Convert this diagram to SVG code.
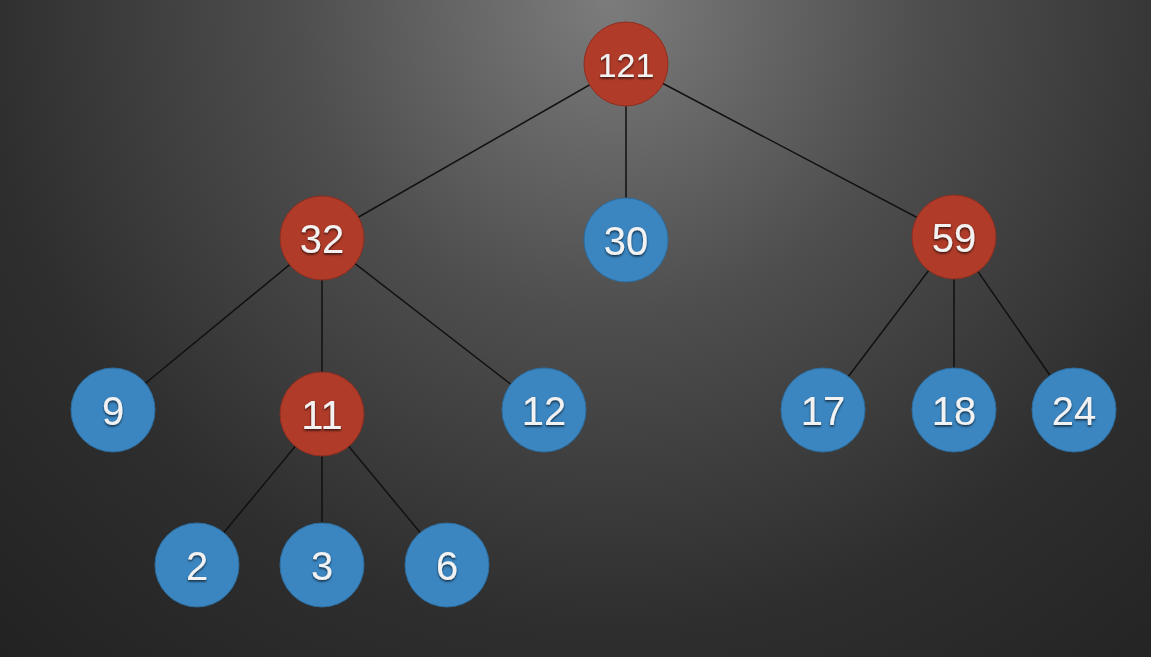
<svg xmlns="http://www.w3.org/2000/svg" width="1151" height="657" viewBox="0 0 1151 657">
<defs>
<radialGradient id="bg" cx="610" cy="0" r="900" gradientUnits="userSpaceOnUse">
<stop offset="0" stop-color="#7c7c7c"/>
<stop offset="0.35" stop-color="#4e4e4e"/>
<stop offset="0.7" stop-color="#2e2e2e"/>
<stop offset="1" stop-color="#222222"/>
</radialGradient>
<filter id="ts" x="-20%" y="-20%" width="140%" height="160%">
<feDropShadow dx="0" dy="1.5" stdDeviation="1" flood-color="#000" flood-opacity="0.7"/>
</filter>
</defs>
<style>
.edge{stroke:#111;stroke-width:1.5;fill:none}
.red{fill:#b03b29;stroke:#8f2e20;stroke-width:1}
.blue{fill:#3b86c1;stroke:#2d6e9f;stroke-width:1}
.lbl{font-family:"Liberation Sans",Arial,sans-serif;font-size:40px;fill:#f2f2f2;text-anchor:middle;dominant-baseline:central;filter:url(#ts)}
.small{font-size:34px}
</style>
<rect width="1151" height="657" fill="url(#bg)"/>
<g id="connectors">
<line class="edge" x1="626" y1="64" x2="322" y2="238"/>
<line class="edge" x1="626" y1="64" x2="626" y2="240"/>
<line class="edge" x1="626" y1="64" x2="954" y2="237"/>
<line class="edge" x1="322" y1="238" x2="113" y2="410"/>
<line class="edge" x1="322" y1="238" x2="322" y2="414"/>
<line class="edge" x1="322" y1="238" x2="544" y2="410"/>
<line class="edge" x1="954" y1="237" x2="823" y2="410"/>
<line class="edge" x1="954" y1="237" x2="954" y2="410"/>
<line class="edge" x1="954" y1="237" x2="1074" y2="410"/>
<line class="edge" x1="322" y1="414" x2="197" y2="565"/>
<line class="edge" x1="322" y1="414" x2="322" y2="565"/>
<line class="edge" x1="322" y1="414" x2="447" y2="565"/>
</g>
<g id="n121"><circle class="red" cx="626" cy="64" r="42"/><text class="lbl small" x="626" y="65">121</text></g>
<g id="n32"><circle class="red" cx="322" cy="238" r="42"/><text class="lbl" x="322" y="239">32</text></g>
<g id="n30"><circle class="blue" cx="626" cy="240" r="42"/><text class="lbl" x="626" y="241">30</text></g>
<g id="n59"><circle class="red" cx="954" cy="237" r="42"/><text class="lbl" x="954" y="238">59</text></g>
<g id="n9"><circle class="blue" cx="113" cy="410" r="42"/><text class="lbl" x="113" y="411">9</text></g>
<g id="n11"><circle class="red" cx="322" cy="414" r="42"/><text class="lbl" x="322" y="415">11</text></g>
<g id="n12"><circle class="blue" cx="544" cy="410" r="42"/><text class="lbl" x="544" y="411">12</text></g>
<g id="n17"><circle class="blue" cx="823" cy="410" r="42"/><text class="lbl" x="823" y="411">17</text></g>
<g id="n18"><circle class="blue" cx="954" cy="410" r="42"/><text class="lbl" x="954" y="411">18</text></g>
<g id="n24"><circle class="blue" cx="1074" cy="410" r="42"/><text class="lbl" x="1074" y="411">24</text></g>
<g id="n2"><circle class="blue" cx="197" cy="565" r="42"/><text class="lbl" x="197" y="566">2</text></g>
<g id="n3"><circle class="blue" cx="322" cy="565" r="42"/><text class="lbl" x="322" y="566">3</text></g>
<g id="n6"><circle class="blue" cx="447" cy="565" r="42"/><text class="lbl" x="447" y="566">6</text></g>
</svg>
